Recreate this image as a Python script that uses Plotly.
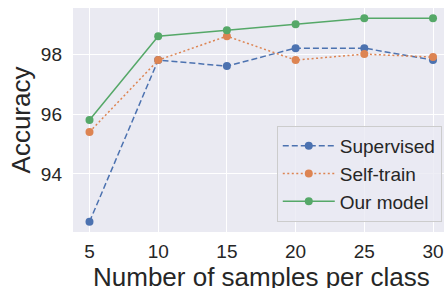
import plotly.graph_objects as go

samples = [5, 10, 15, 20, 25, 30]
supervised = [92.4, 97.8, 97.6, 98.2, 98.2, 97.8]
self_train = [95.4, 97.8, 98.6, 97.8, 98.0, 97.9]
our_model = [95.8, 98.6, 98.8, 99.0, 99.2, 99.2]
x_ticks = [5, 10, 15, 20, 25, 30]
y_ticks = [94, 96, 98]

font = "Liberation Sans, Arial, sans-serif"
fig = go.Figure()
for name, vals, color, dash in [
    ("Supervised", supervised, "#4C72B0", "6px,3px"),
    ("Self-train", self_train, "#DD8452", "2px,2.5px"),
    ("Our model", our_model, "#55A868", "solid"),
]:
    fig.add_trace(go.Scatter(
        x=samples, y=vals, name=name, mode="lines+markers",
        line=dict(color=color, width=1.5, dash=dash),
        marker=dict(color=color, size=8),
    ))

fig.update_layout(
    width=444, height=288,
    margin=dict(l=73, r=0, t=8, b=56, autoexpand=False),
    paper_bgcolor="white", plot_bgcolor="#EAEAF2",
    font=dict(family=font, size=19, color="#262626"),
    legend=dict(
        x=0.994, xanchor="right", y=0.045, yanchor="bottom",
        bgcolor="rgba(234,234,242,0.8)", bordercolor="#cccccc", borderwidth=1,
        font=dict(size=19, color="#262626"),
        tracegroupgap=0, itemwidth=52,
    ),
    showlegend=True,
    annotations=[dict(
        text="Number of samples per class", xref="paper", yref="paper",
        x=0.507, y=-0.2, xanchor="center", yanchor="middle",
        showarrow=False, font=dict(size=26, color="#262626"),
    )],
)
fig.update_xaxes(
    range=[3.8, 30.8], tickvals=x_ticks, showgrid=True, gridcolor="white", gridwidth=1,
    zeroline=False, showline=False, ticks="", ticklabelstandoff=6,
    automargin=False,
)
fig.update_yaxes(
    range=[92.06, 99.54], tickvals=y_ticks, showgrid=True, gridcolor="white", gridwidth=1,
    zeroline=False, showline=False, ticks="", ticklabelstandoff=10,
    title=dict(text="Accuracy", font=dict(size=26), standoff=2),
    automargin=False,
)
fig.write_html("out.html", config={"displayModeBar": False},
               post_script="document.body.style.margin='0';document.body.style.overflow='hidden';")
